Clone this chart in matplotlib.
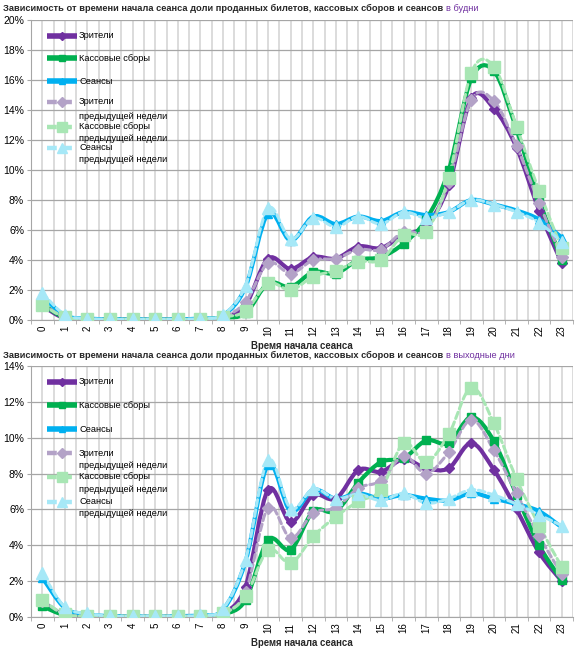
import numpy as np
import matplotlib
matplotlib.use('Agg')
import matplotlib.pyplot as plt
from matplotlib.path import Path
from matplotlib.patches import PathPatch
from matplotlib.lines import Line2D
from matplotlib.ticker import PercentFormatter

plt.rcParams['font.family'] = ['Liberation Sans', 'DejaVu Sans']

# часы начала сеанса
hours = list(range(24))

# будни, %
viewers_wd = [0.95, 0.1, 0.05, 0.05, 0.05, 0.05, 0.05, 0.05, 0.15, 1.0, 4.1, 3.4, 4.2, 4.1,
              4.9, 4.8, 5.7, 6.3, 9.0, 14.8, 14.1, 11.5, 7.3, 3.8]
box_wd = [1.05, 0.15, 0.05, 0.05, 0.05, 0.05, 0.05, 0.05, 0.15, 0.45, 2.45, 2.2, 3.2, 3.1,
          4.0, 4.2, 5.1, 6.7, 10.0, 16.1, 16.6, 12.7, 8.0, 4.0]
sessions_wd = [1.6, 0.3, 0.1, 0.05, 0.05, 0.05, 0.05, 0.1, 0.3, 2.2, 7.1, 5.3, 6.9, 6.4,
               6.9, 6.6, 7.2, 7.0, 7.2, 8.0, 7.7, 7.3, 6.7, 5.5]
viewers_wd_prev = [1.1, 0.15, 0.05, 0.05, 0.05, 0.05, 0.05, 0.05, 0.2, 1.2, 3.8, 3.1, 4.0, 4.1,
                   4.7, 4.7, 5.9, 6.0, 9.2, 14.7, 14.6, 11.6, 7.8, 4.2]
box_wd_prev = [1.0, 0.2, 0.05, 0.05, 0.05, 0.05, 0.05, 0.05, 0.2, 0.6, 2.45, 2.0, 2.9, 3.3,
               3.9, 4.0, 5.7, 5.9, 9.5, 16.5, 16.9, 12.9, 8.6, 4.8]
sessions_wd_prev = [1.8, 0.35, 0.1, 0.05, 0.05, 0.05, 0.05, 0.1, 0.35, 2.3, 7.45, 5.4, 6.8, 6.2,
                    6.9, 6.4, 7.2, 6.8, 7.2, 8.0, 7.7, 7.2, 6.5, 5.2]

# выходные, %
viewers_we = [0.85, 0.1, 0.05, 0.05, 0.05, 0.05, 0.05, 0.05, 0.2, 1.7, 7.1, 5.3, 6.8, 6.6,
              8.2, 8.1, 8.8, 8.3, 8.3, 9.7, 8.2, 6.0, 3.6, 2.0]
box_we = [0.6, 0.1, 0.05, 0.05, 0.05, 0.05, 0.05, 0.05, 0.15, 0.95, 4.3, 3.75, 5.9, 5.9,
          7.5, 8.65, 8.85, 9.85, 9.7, 11.15, 9.8, 6.8, 4.0, 2.05]
sessions_we = [2.2, 0.5, 0.15, 0.05, 0.05, 0.05, 0.05, 0.1, 0.4, 3.1, 8.5, 5.9, 7.1, 6.6,
               6.9, 6.6, 6.8, 6.6, 6.5, 6.9, 6.6, 6.3, 5.9, 5.0]
viewers_we_prev = [0.9, 0.15, 0.05, 0.05, 0.05, 0.05, 0.05, 0.05, 0.2, 1.4, 6.1, 4.4, 5.8, 6.1,
                   7.2, 7.6, 9.0, 8.0, 9.2, 11.0, 9.3, 6.9, 4.5, 2.4]
box_we_prev = [0.95, 0.15, 0.05, 0.05, 0.05, 0.05, 0.05, 0.05, 0.2, 1.15, 3.75, 3.0, 4.5, 5.6,
               6.45, 7.1, 9.7, 8.65, 10.2, 12.8, 10.8, 7.7, 5.1, 2.8]
sessions_we_prev = [2.45, 0.55, 0.2, 0.05, 0.05, 0.05, 0.05, 0.1, 0.45, 3.2, 8.75, 6.05, 7.15, 6.6,
                    6.85, 6.5, 6.9, 6.35, 6.6, 7.1, 6.8, 6.3, 5.7, 5.1]

labels = ['Зрители', 'Кассовые сборы', 'Сеансы',
          'Зрители\nпредыдущей недели', 'Кассовые сборы\nпредыдущей недели',
          'Сеансы\nпредыдущей недели']

PURPLE, GREEN, BLUE = '#7030A0', '#00B050', '#00B0F0'
L_PURPLE, L_GREEN, L_BLUE = '#B3A2C7', '#A8E6B4', '#A6E8F7'
DASH = (0, (2.2, 1.2))

styles = [
    dict(color=PURPLE, marker='D', ms=5, lw=3.0, ls='-'),
    dict(color=GREEN, marker='s', ms=6, lw=3.0, ls='-'),
    dict(color=BLUE, marker='^', ms=6, lw=3.0, ls='-'),
    dict(color=L_PURPLE, marker='D', ms=6, lw=2.2, ls=DASH),
    dict(color=L_GREEN, marker='s', ms=8, lw=2.2, ls=DASH),
    dict(color=L_BLUE, marker='^', ms=8, lw=2.2, ls=DASH),
]


def smooth_path(xs, ys):
    # сглаженная линия как в Excel (кривые Безье через точки)
    n = len(xs)
    verts = [(xs[0], ys[0])]
    codes = [Path.MOVETO]
    for i in range(n - 1):
        x0, y0 = (xs[i - 1], ys[i - 1]) if i > 0 else (xs[i], ys[i])
        x3, y3 = (xs[i + 2], ys[i + 2]) if i + 2 < n else (xs[i + 1], ys[i + 1])
        c1 = (xs[i] + (xs[i + 1] - x0) / 6, ys[i] + (ys[i + 1] - y0) / 6)
        c2 = (xs[i + 1] - (x3 - xs[i]) / 6, ys[i + 1] - (y3 - ys[i]) / 6)
        verts += [c1, c2, (xs[i + 1], ys[i + 1])]
        codes += [Path.CURVE4] * 3
    return Path(verts, codes)


def draw_chart(ax, series, ymax, legend_y, second_y):
    for vals, st in zip(series, styles):
        ax.add_patch(PathPatch(smooth_path(hours, vals), fill=False, edgecolor=st['color'],
                               lw=st['lw'], linestyle=st['ls'], capstyle='round',
                               joinstyle='round', zorder=3))
        ax.plot(hours, vals, linestyle='none', marker=st['marker'], ms=st['ms'],
                color=st['color'], mec=st['color'], zorder=4)
    ax.set_xlim(-0.5, 23.5)
    ax.set_ylim(0, ymax)
    ax.set_yticks(np.arange(0, ymax + 0.1, 2))
    ax.yaxis.set_major_formatter(PercentFormatter(100, decimals=0))
    ax.set_xticks(hours)
    ax.set_xticklabels([str(h) for h in hours], rotation=90)
    ax.set_xticks(np.arange(-0.5, 23.6, 1), minor=True)
    ax.tick_params(axis='x', which='major', length=0, labelsize=7, pad=4)
    ax.tick_params(axis='x', which='minor', length=3, color='#A6A6A6')
    ax.tick_params(axis='y', length=3, color='#A6A6A6', labelsize=7.5, pad=2)
    ax.grid(axis='x', which='both', color='#D9D9D9', lw=1.3, zorder=0)
    ax.grid(axis='y', which='major', color='#A6A6A6', lw=0.9, zorder=0)
    ax.set_axisbelow(True)
    for s in ['top', 'right']:
        ax.spines[s].set_visible(False)
    for s in ['left', 'bottom']:
        ax.spines[s].set_color('#A6A6A6')
    # легенда вручную: значок и первая строка подписи на одной высоте
    for i, (lab, st) in enumerate(zip(labels, styles)):
        y = 1 - legend_y[i] / 650
        fig.add_artist(Line2D([47 / 576, 77 / 576], [y, y], transform=fig.transFigure,
                              color=st['color'], lw=st['lw'] + 1, linestyle=st['ls'],
                              solid_capstyle='butt'))
        fig.add_artist(Line2D([62 / 576], [y], transform=fig.transFigure, color=st['color'],
                              marker=st['marker'], ms=st['ms'] - 1, linestyle='none'))
        parts = lab.split('\n')
        fig.text(79 / 576, y, parts[0], fontsize=6.7, va='center', ha='left')
        if len(parts) > 1:
            fig.text(79 / 576, 1 - second_y[i - 3] / 650, parts[1], fontsize=6.7,
                     va='center', ha='left')


fig = plt.figure(figsize=(5.76, 6.5), dpi=100)
ax1 = fig.add_axes([31 / 576, 1 - 320 / 650, 542 / 576, 300 / 650])
ax2 = fig.add_axes([31 / 576, 1 - 617 / 650, 542 / 576, 251 / 650])

draw_chart(ax1, [viewers_wd, box_wd, sessions_wd, viewers_wd_prev, box_wd_prev, sessions_wd_prev],
           20, [35.7, 58.3, 81, 101.7, 126.7, 147.7], [116.7, 138.3, 160])
draw_chart(ax2, [viewers_we, box_we, sessions_we, viewers_we_prev, box_we_prev, sessions_we_prev],
           14, [381.7, 405.3, 429, 453.3, 476.7, 501.7], [466, 490, 513])

# заголовки: цветная часть сразу после чёрной
head = 'Зависимость от времени начала сеанса доли проданных билетов, кассовых сборов и сеансов '
for y_px, tail in [(11, 'в будни'), (358, 'в выходные дни')]:
    t = fig.text(3 / 576, 1 - y_px / 650, head, fontsize=6.7, fontweight='bold',
                 va='baseline', ha='left', color='#262626')
    fig.canvas.draw()
    bb = t.get_window_extent().transformed(fig.transFigure.inverted())
    fig.text(bb.x1, 1 - y_px / 650, tail, fontsize=6.7, va='baseline', ha='left', color=PURPLE)

for y_px in [346, 643]:
    fig.text(302 / 576, 1 - y_px / 650, 'Время начала сеанса', fontsize=6.9, fontweight='bold',
             ha='center', va='center', color='#262626')

fig.savefig('out.png', dpi=100)
